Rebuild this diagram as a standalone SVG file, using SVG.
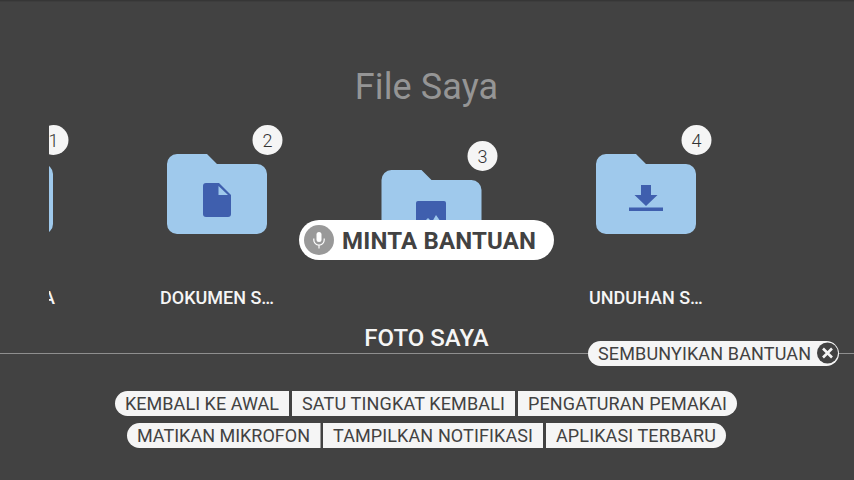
<svg xmlns="http://www.w3.org/2000/svg" width="854" height="480" viewBox="0 0 854 480">
<style>
text{font-family:Roboto,"Liberation Sans",sans-serif}
.folder{fill:#9fc9ec}
.ic{fill:#3f5fae}
.badge{fill:#f5f5f5}
.num{font-size:18px;font-weight:300;fill:#333;text-anchor:middle}
.lab{font-size:18px;font-weight:500;fill:#f5f5f5}
.pill{fill:#f5f5f5}
.pt{font-size:18px;fill:#424242}
</style>
<defs>
<path id="f" d="M10 0H40L50 10H90A10 10 0 0 1 100 20V70A10 10 0 0 1 90 80H10A10 10 0 0 1 0 70V10A10 10 0 0 1 10 0Z"/>
<clipPath id="c"><rect x="49" y="0" width="805" height="480"/></clipPath>
</defs>
<rect width="854" height="480" fill="#424242"/>
<rect width="854" height="1" fill="#363636"/>
<rect y="1" width="854" height="1" fill="#3d3d3d"/>
<text x="426.500" y="99" font-size="36" fill="#959595" text-anchor="middle" style="letter-spacing:.1px">File Saya</text>
<g id="item1" clip-path="url(#c)">
<use href="#f" class="folder" x="-47" y="154"/>
<circle class="badge" cx="53.500" cy="140" r="15"/>
<text class="num" x="53.500" y="146.500">1</text>
<text class="lab" x="43" y="304">A</text>
</g>
<g id="item2">
<use href="#f" class="folder" x="167" y="154"/>
<path class="ic" d="M206 183H219L231 195V214A3 3 0 0 1 228 217H206A3 3 0 0 1 203 214V186A3 3 0 0 1 206 183Z"/>
<path class="folder" d="M218.500 186V195H228Z"/>
<circle class="badge" cx="267.500" cy="140" r="15"/>
<text class="num" x="267.500" y="146.500">2</text>
<text class="lab" x="160" y="304">DOKUMEN S…</text>
</g>
<g id="item3">
<use href="#f" class="folder" x="381.500" y="170"/>
<path class="ic" d="M418 201H444A2 2 0 0 1 446 203V225H416V203A2 2 0 0 1 418 201Z"/>
<path class="folder" d="M424 222L428 218L432 222L436 215L443 225H420Z"/>
<circle class="badge" cx="482.500" cy="156" r="15"/>
<text class="num" x="482.500" y="162.500">3</text>
</g>
<g id="item4">
<use href="#f" class="folder" x="596" y="154"/>
<path class="ic" d="M641 185H651V195H657.500L646 206L634.500 195H641ZM629 207.500H663V211H629Z"/>
<circle class="badge" cx="696.500" cy="140" r="15"/>
<text class="num" x="696.500" y="146.500">4</text>
<text class="lab" x="589" y="304">UNDUHAN S…</text>
</g>
<text id="title2" x="426.500" y="346" font-size="24" font-weight="500" fill="#f5f5f5" text-anchor="middle">FOTO SAYA</text>
<path id="rule" d="M0 353.500H854" stroke="#8f8f8f" stroke-width="1" fill="none"/>
<g id="mic">
<rect x="299" y="220" width="255" height="40" rx="20" fill="#fff"/>
<circle cx="319" cy="240" r="15" fill="#999"/>
<rect x="316.500" y="232" width="5" height="10" rx="2.500" fill="#fff"/>
<path d="M313.800 238.500V240A5.200 5.200 0 0 0 324.200 240V238.500M319 245.500V248.500" fill="none" stroke="#fff" stroke-width="1.200"/>
<text x="342" y="249" font-size="24" font-weight="700" fill="#424242" textLength="194" lengthAdjust="spacing">MINTA BANTUAN</text>
</g>
<g id="hide">
<rect class="pill" x="588" y="341" width="251" height="25" rx="12.500"/>
<text class="pt" x="598" y="360" textLength="213" lengthAdjust="spacing">SEMBUNYIKAN BANTUAN</text>
<circle cx="827.500" cy="353" r="10.500" fill="#424242"/>
<path d="M823 348.500L832 357.500M832 348.500L823 357.500" stroke="#f5f5f5" stroke-width="2.600" fill="none"/>
</g>
<g id="b1"><path class="pill" d="M127.500 391H289V416H127.500A12.500 12.500 0 0 1 127.500 391Z"/><text class="pt" x="125" y="410" textLength="154" lengthAdjust="spacing">KEMBALI KE AWAL</text></g>
<g id="b2"><rect class="pill" x="292" y="391" width="223" height="25"/><text class="pt" x="302" y="410" textLength="203" lengthAdjust="spacing">SATU TINGKAT KEMBALI</text></g>
<g id="b3"><path class="pill" d="M518 391H724.500A12.500 12.500 0 0 1 724.500 416H518Z"/><text class="pt" x="528" y="410" textLength="199" lengthAdjust="spacing">PENGATURAN PEMAKAI</text></g>
<g id="b4"><path class="pill" d="M139.500 423H320.500V448H139.500A12.500 12.500 0 0 1 139.500 423Z"/><text class="pt" x="137" y="442" textLength="173" lengthAdjust="spacing">MATIKAN MIKROFON</text></g>
<g id="b5"><rect class="pill" x="323" y="423" width="220" height="25"/><text class="pt" x="333" y="442" textLength="200" lengthAdjust="spacing">TAMPILKAN NOTIFIKASI</text></g>
<g id="b6"><path class="pill" d="M546 423H713.500A12.500 12.500 0 0 1 713.500 448H546Z"/><text class="pt" x="556" y="442" textLength="160" lengthAdjust="spacing">APLIKASI TERBARU</text></g>
</svg>
